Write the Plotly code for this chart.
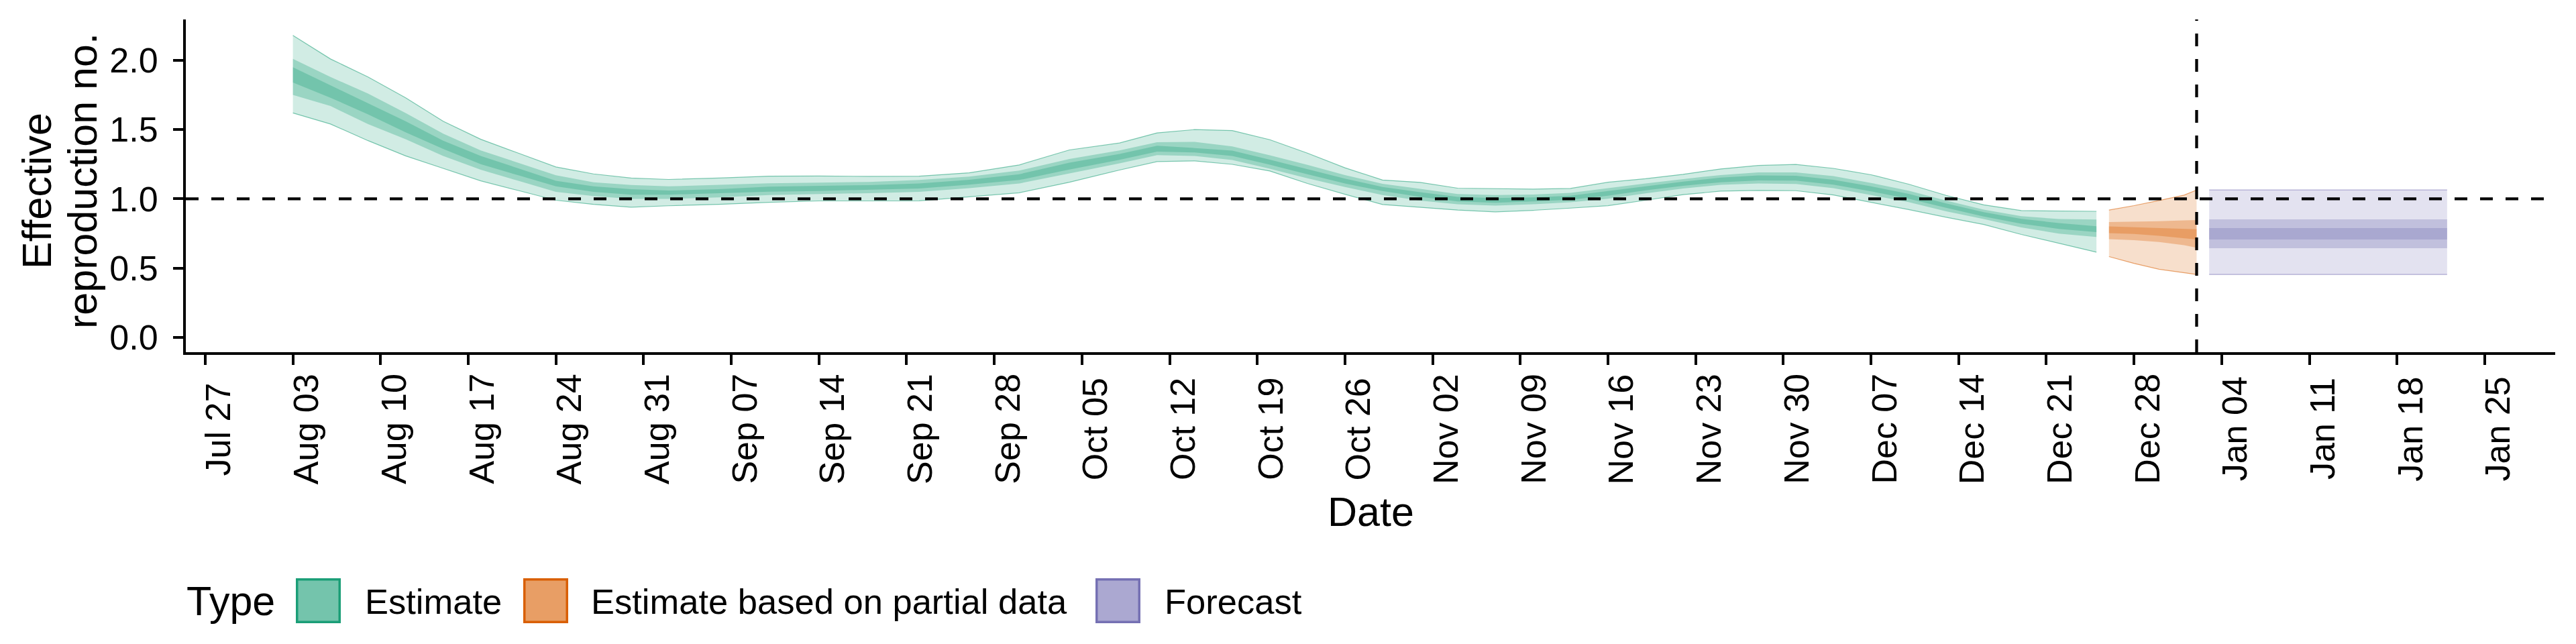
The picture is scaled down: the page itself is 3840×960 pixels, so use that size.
import plotly.graph_objects as go

# ---------------- data ----------------
est_dates = ["2020-08-03", "2020-08-06", "2020-08-09", "2020-08-12", "2020-08-15", "2020-08-18",
             "2020-08-21", "2020-08-24", "2020-08-27", "2020-08-30", "2020-09-02", "2020-09-06",
             "2020-09-10", "2020-09-14", "2020-09-18", "2020-09-22", "2020-09-26", "2020-09-30",
             "2020-10-04", "2020-10-08", "2020-10-11", "2020-10-14", "2020-10-17", "2020-10-20",
             "2020-10-23", "2020-10-26", "2020-10-29", "2020-11-01", "2020-11-04", "2020-11-07",
             "2020-11-10", "2020-11-13", "2020-11-16", "2020-11-19", "2020-11-22", "2020-11-25",
             "2020-11-28", "2020-12-01", "2020-12-04", "2020-12-07", "2020-12-10", "2020-12-13",
             "2020-12-16", "2020-12-19", "2020-12-22", "2020-12-25"]
est_lower_90 = [1.62, 1.54, 1.42, 1.31, 1.22, 1.13, 1.06, 0.99, 0.96, 0.94, 0.95, 0.96,
                0.975, 0.985, 0.985, 0.986, 1.015, 1.044, 1.120, 1.208, 1.269, 1.274, 1.249, 1.201,
                1.111, 1.033, 0.959, 0.938, 0.919, 0.906, 0.917, 0.933, 0.951, 0.990, 1.030, 1.056,
                1.061, 1.059, 1.028, 0.975, 0.923, 0.867, 0.815, 0.743, 0.680, 0.615]
est_upper_90 = [2.18, 2.01, 1.88, 1.73, 1.56, 1.43, 1.33, 1.23, 1.18, 1.15, 1.14, 1.15,
                1.164, 1.165, 1.162, 1.164, 1.188, 1.245, 1.353, 1.403, 1.476, 1.500, 1.493, 1.427,
                1.330, 1.224, 1.136, 1.119, 1.077, 1.072, 1.070, 1.075, 1.120, 1.145, 1.177, 1.216,
                1.241, 1.248, 1.220, 1.174, 1.106, 1.025, 0.957, 0.915, 0.914, 0.910]
est_lower_50 = [1.75, 1.67, 1.54, 1.43, 1.31, 1.21, 1.13, 1.05, 1.02, 1.00, 1.00, 1.01,
                1.028, 1.033, 1.041, 1.051, 1.077, 1.111, 1.185, 1.256, 1.316, 1.309, 1.280, 1.217,
                1.148, 1.085, 1.028, 0.988, 0.961, 0.951, 0.961, 0.975, 1.001, 1.040, 1.075, 1.101,
                1.111, 1.107, 1.077, 1.028, 0.977, 0.910, 0.854, 0.794, 0.749, 0.725]
est_upper_50 = [2.01, 1.88, 1.76, 1.62, 1.47, 1.35, 1.26, 1.17, 1.12, 1.10, 1.09, 1.10,
                1.112, 1.117, 1.122, 1.136, 1.161, 1.204, 1.288, 1.350, 1.409, 1.411, 1.379, 1.314,
                1.245, 1.172, 1.109, 1.072, 1.035, 1.028, 1.031, 1.043, 1.078, 1.111, 1.143, 1.172,
                1.191, 1.191, 1.164, 1.115, 1.059, 0.988, 0.922, 0.875, 0.854, 0.851]
est_lower_20 = [1.84, 1.73, 1.61, 1.48, 1.36, 1.25, 1.17, 1.09, 1.05, 1.03, 1.03, 1.04,
                1.052, 1.057, 1.065, 1.075, 1.102, 1.136, 1.212, 1.282, 1.341, 1.335, 1.309, 1.246,
                1.177, 1.111, 1.056, 1.014, 0.982, 0.972, 0.981, 0.994, 1.023, 1.061, 1.094, 1.120,
                1.133, 1.132, 1.103, 1.054, 1.001, 0.935, 0.873, 0.820, 0.783, 0.760]
est_upper_20 = [1.95, 1.82, 1.69, 1.56, 1.42, 1.31, 1.22, 1.13, 1.09, 1.07, 1.06, 1.07,
                1.088, 1.093, 1.099, 1.111, 1.138, 1.178, 1.261, 1.324, 1.383, 1.367, 1.348, 1.283,
                1.216, 1.146, 1.086, 1.048, 1.014, 1.006, 1.010, 1.023, 1.056, 1.091, 1.124, 1.153,
                1.169, 1.167, 1.138, 1.090, 1.036, 0.967, 0.904, 0.856, 0.825, 0.802]

partial_dates = ["2020-12-26", "2020-12-28", "2020-12-30", "2021-01-01", "2021-01-02"]
partial_lower_90 = [0.583, 0.534, 0.492, 0.466, 0.454]
partial_upper_90 = [0.919, 0.951, 0.988, 1.027, 1.064]
partial_lower_50 = [0.709, 0.702, 0.688, 0.665, 0.647]
partial_upper_50 = [0.833, 0.835, 0.838, 0.844, 0.847]
partial_lower_20 = [0.752, 0.746, 0.733, 0.717, 0.707]
partial_upper_20 = [0.801, 0.796, 0.789, 0.783, 0.780]

forecast_dates = ["2021-01-03", "2021-01-22"]
forecast_lower_90 = [0.454, 0.454]
forecast_upper_90 = [1.064, 1.064]
forecast_lower_50 = [0.644, 0.644]
forecast_upper_50 = [0.852, 0.852]
forecast_lower_20 = [0.707, 0.707]
forecast_upper_20 = [0.789, 0.789]

last_data_date = "2021-01-02"
reference_r = 1.0

x_tick_dates = ["2020-07-27", "2020-08-03", "2020-08-10", "2020-08-17", "2020-08-24", "2020-08-31",
                "2020-09-07", "2020-09-14", "2020-09-21", "2020-09-28", "2020-10-05", "2020-10-12",
                "2020-10-19", "2020-10-26", "2020-11-02", "2020-11-09", "2020-11-16", "2020-11-23",
                "2020-11-30", "2020-12-07", "2020-12-14", "2020-12-21", "2020-12-28", "2021-01-04",
                "2021-01-11", "2021-01-18", "2021-01-25"]
x_tick_labels = ["Jul 27", "Aug 03", "Aug 10", "Aug 17", "Aug 24", "Aug 31", "Sep 07", "Sep 14",
                 "Sep 21", "Sep 28", "Oct 05", "Oct 12", "Oct 19", "Oct 26", "Nov 02", "Nov 09",
                 "Nov 16", "Nov 23", "Nov 30", "Dec 07", "Dec 14", "Dec 21", "Dec 28", "Jan 04",
                 "Jan 11", "Jan 18", "Jan 25"]
y_tick_vals = [0.0, 0.5, 1.0, 1.5, 2.0]
y_tick_labels = ["0.0", "0.5", "1.0", "1.5", "2.0"]
y_title_lines = ["Effective", "reproduction no."]
x_title = "Date"
legend_title = "Type"

type_names = ["Estimate", "Estimate based on partial data", "Forecast"]
type_colors = {"Estimate": (27, 158, 119),
               "Estimate based on partial data": (217, 95, 2),
               "Forecast": (117, 112, 179)}

# ---------------- geometry (screen pixels; page body has an 8px margin) ----------------
OFF = 8
W, H = 3840 - 2 * OFF, 960 - 2 * OFF
PL, PR, PT, PB = 277, 3809, 29, 525          # plot area on screen
ML, MT = PL - OFF, PT - OFF
MR, MB = W - (PR - OFF), H - (PB - OFF)
PW, PH = PR - PL, PB - PT
FONT = "Liberation Sans, Arial, Helvetica, sans-serif"


def rgba(c, a):
    return "rgba(%d,%d,%d,%.3f)" % (c[0], c[1], c[2], a)


def px2x(px):
    return (px - PL) / PW


def py2y(py):
    return (PB - py) / PH


fig = go.Figure()

series = {
    "Estimate": (est_dates, [(est_lower_90, est_upper_90), (est_lower_50, est_upper_50),
                             (est_lower_20, est_upper_20)]),
    "Estimate based on partial data": (partial_dates, [(partial_lower_90, partial_upper_90),
                                                       (partial_lower_50, partial_upper_50),
                                                       (partial_lower_20, partial_upper_20)]),
    "Forecast": (forecast_dates, [(forecast_lower_90, forecast_upper_90),
                                  (forecast_lower_50, forecast_upper_50),
                                  (forecast_lower_20, forecast_upper_20)]),
}
alphas = [0.2, 0.3, 0.3]

for name in type_names:
    dates, bands = series[name]
    col = type_colors[name]
    for i, (lo, hi) in enumerate(bands):
        edge = dict(color=rgba(col, 0.55), width=1.2) if i == 0 else dict(width=0)
        fig.add_trace(go.Scatter(x=dates, y=lo, mode="lines", line=edge,
                                 showlegend=False, hoverinfo="skip"))
        fig.add_trace(go.Scatter(x=dates, y=hi, mode="lines", line=edge, fill="tonexty",
                                 fillcolor=rgba(col, alphas[i]), showlegend=False,
                                 hoverinfo="skip"))

# reference lines
dash = "19px,19px"
fig.add_shape(type="line", xref="paper", yref="y", x0=0, x1=1, y0=reference_r, y1=reference_r,
              line=dict(color="black", width=4.3, dash=dash), layer="above")
fig.add_shape(type="line", xref="x", yref="paper", x0=last_data_date, x1=last_data_date, y0=0, y1=1,
              line=dict(color="black", width=4.3, dash=dash), layer="above")

# x tick labels: rotated, centred vertically, text top aligned with the tick (as in reference)
for d, lab in zip(x_tick_dates, x_tick_labels):
    fig.add_annotation(text=lab, xref="x", yref="paper", x=d, y=py2y(639.5), xshift=19,
                       xanchor="center", yanchor="middle", textangle=-90, showarrow=False,
                       font=dict(family=FONT, size=52, color="black"))

# axis titles
fig.add_annotation(text=x_title, xref="paper", yref="paper", x=px2x(2043), y=py2y(763),
                   xanchor="center", yanchor="middle", showarrow=False,
                   font=dict(family=FONT, size=61, color="black"))
for txt, cx, cy in zip(y_title_lines, [55, 123], [285, 270]):
    fig.add_annotation(text=txt, xref="paper", yref="paper", x=px2x(cx), y=py2y(cy),
                       xanchor="center", yanchor="middle", textangle=-90, showarrow=False,
                       font=dict(family=FONT, size=61, color="black"))

# custom legend (large keys like the reference)
legend_y = 896
fig.add_annotation(text=legend_title, xref="paper", yref="paper", x=px2x(276), y=py2y(legend_y),
                   xanchor="left", yanchor="middle", showarrow=False,
                   font=dict(family=FONT, size=61, color="black"))
key_x = [441, 780, 1633]
text_x = [542, 879, 1734]
for name, kx, tx in zip(type_names, key_x, text_x):
    col = type_colors[name]
    fig.add_shape(type="rect", xref="paper", yref="paper",
                  x0=px2x(kx + 1.75), x1=px2x(kx + 67 - 1.75),
                  y0=py2y(862 + 1.75), y1=py2y(929 - 1.75),
                  fillcolor=rgba(col, 0.608), line=dict(color=rgba(col, 1), width=3.5))
    fig.add_annotation(text=name, xref="paper", yref="paper", x=px2x(tx), y=py2y(legend_y),
                       xanchor="left", yanchor="middle", showarrow=False,
                       font=dict(family=FONT, size=52.5, color="black"))

fig.update_layout(
    width=W, height=H,
    margin=dict(l=ML, r=MR, t=MT, b=MB, autoexpand=False),
    paper_bgcolor="white", plot_bgcolor="white",
    font=dict(family=FONT, color="black"),
    showlegend=False,
)
fig.update_xaxes(
    type="date", range=["2020-07-25 10:48", "2021-01-30 15:07"],
    tickmode="array", tickvals=x_tick_dates, showticklabels=False,
    ticks="outside", ticklen=15, tickwidth=4, tickcolor="black",
    showline=True, linewidth=4, linecolor="black", mirror=False,
    showgrid=False, zeroline=False, automargin=False,
)
fig.update_yaxes(
    range=[-0.107, 2.295],
    tickmode="array", tickvals=y_tick_vals, ticktext=y_tick_labels,
    ticks="outside", ticklen=15, tickwidth=4, tickcolor="black",
    tickfont=dict(family=FONT, size=52, color="black"), ticklabelstandoff=12,
    showline=True, linewidth=4, linecolor="black",
    showgrid=False, zeroline=False, automargin=False,
)

fig.write_html("out.html")
